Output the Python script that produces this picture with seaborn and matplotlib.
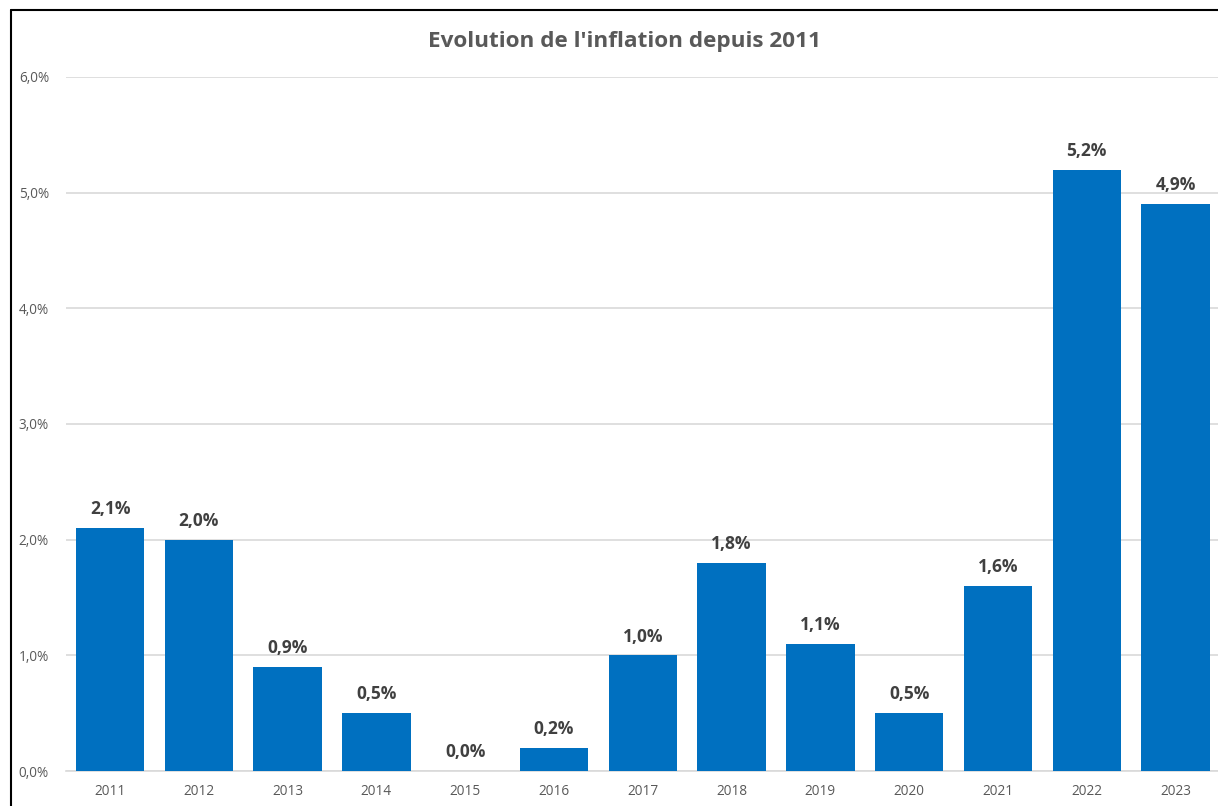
import matplotlib
matplotlib.use("Agg")
import matplotlib.pyplot as plt
from matplotlib.lines import Line2D
import seaborn as sns
import pandas as pd

years = ["2011", "2012", "2013", "2014", "2015", "2016", "2017",
         "2018", "2019", "2020", "2021", "2022", "2023"]
inflation = [2.1, 2.0, 0.9, 0.5, 0.0, 0.2, 1.0, 1.8, 1.1, 0.5, 1.6, 5.2, 4.9]
y_ticks = [0, 1, 2, 3, 4, 5, 6]
title = "Evolution de l'inflation depuis 2011"

sns.set_theme(style="white")
plt.rcParams["font.family"] = ["Open Sans", "DejaVu Sans"]

BAR = "#0070C0"
TXT = "#595959"
GRID = "#D9D9D9"

df = pd.DataFrame({"year": years, "value": inflation})

fig = plt.figure(figsize=(12.18, 8.06), dpi=100)
ax = fig.add_axes([0.0539, 0.0434, 0.9477, 0.8611])

sns.barplot(data=df, x="year", y="value", color=BAR, saturation=1,
            width=0.77, ax=ax, zorder=3, linewidth=0)

ax.set_ylim(0, 6)
ax.set_yticks(y_ticks)
ax.set_yticklabels([f"{v:.1f}%".replace(".", ",") for v in y_ticks])
ax.yaxis.grid(True, color=GRID, linewidth=1.2, zorder=0)
ax.set_axisbelow(True)
for side in ["top", "right", "left"]:
    ax.spines[side].set_visible(False)
ax.spines["bottom"].set_color(GRID)
ax.spines["bottom"].set_linewidth(1.2)
ax.tick_params(axis="both", length=0, labelsize=9.8, colors=TXT)
ax.tick_params(axis="y", pad=12)
ax.tick_params(axis="x", pad=9)
ax.set_xlabel("")
ax.set_ylabel("")

for i, v in enumerate(inflation):
    ax.annotate(f"{v:.1f}%".replace(".", ","), (i, v), xytext=(0, 7),
                textcoords="offset points", ha="center", va="bottom",
                fontsize=12.5, fontweight="bold", color="#404040")

fig.text(0.513, 0.948, title, ha="center", va="center",
         fontsize=16.2, fontweight="bold", color=TXT)

# outer frame (left and top edges)
x0 = 11 / 1218
y0 = 1 - 10 / 806
fig.add_artist(Line2D([x0, x0], [0, y0], color="black", linewidth=1.5,
                      transform=fig.transFigure))
fig.add_artist(Line2D([x0, 1], [y0, y0], color="black", linewidth=1.5,
                      transform=fig.transFigure))

fig.savefig("out.png", dpi=100)
